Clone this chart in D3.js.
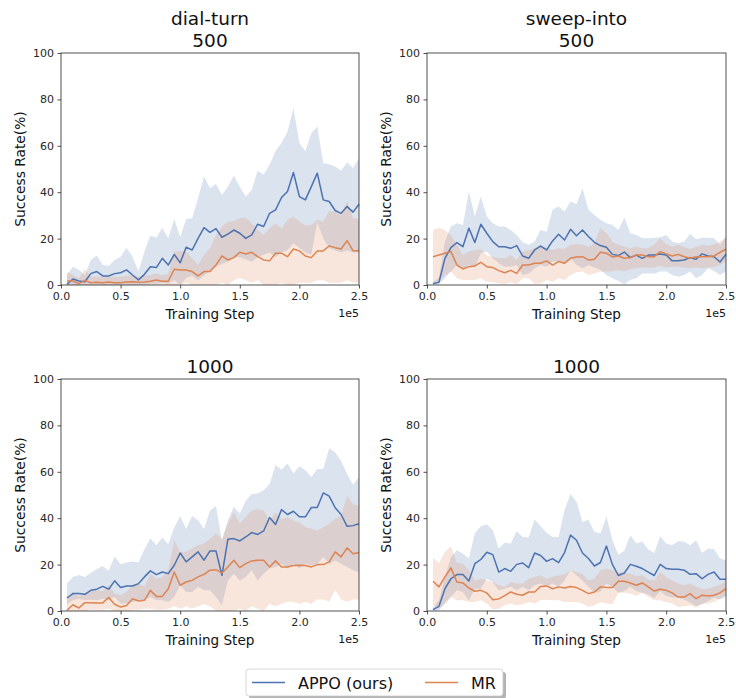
<!DOCTYPE html>
<html><head><meta charset="utf-8">
<script src="https://cdn.jsdelivr.net/npm/d3@7"></script>
<style>body{margin:0;background:#fff;}svg{display:block;font-family:"DejaVu Sans",sans-serif;}</style>
</head><body>
<script>
// ---------- DATA ----------
const steps = [5000,10000,15000,20000,25000,30000,35000,40000,45000,50000,
  55000,60000,65000,70000,75000,80000,85000,90000,95000,100000,
  105000,110000,115000,120000,125000,130000,135000,140000,145000,150000,
  155000,160000,165000,170000,175000,180000,185000,190000,195000,200000,
  205000,210000,215000,220000,225000,230000,235000,240000,245000,250000];
const seriesNames = ["APPO (ours)", "MR"];
const panelTasks = ["dial-turn", "sweep-into", "", ""];
const panelBudgets = ["500", "500", "1000", "1000"];
const yTicks = [0, 20, 40, 60, 80, 100];
const xTicks = [0, 50000, 100000, 150000, 200000, 250000];
const xTickLabels = ["0.0", "0.5", "1.0", "1.5", "2.0", "2.5"];

// dial-turn 500
const dial500AppoMean = [0.3,2.6,1.7,1.4,4.9,5.8,3.9,3.9,4.9,5.3,6.5,4.3,2.2,4.6,7.9,7.5,11.5,8.6,13.2,9.6,16.3,15.1,20.1,24.7,22.7,24.3,20.6,21.9,23.7,22.3,20.1,21.6,26.2,25.2,30.9,32.4,37.7,40.3,48.5,38.1,36.7,42.4,48.2,36.7,36.0,32.1,30.9,33.8,31.4,34.8];
const dial500AppoHi = [4.3,7.9,6.5,4.3,10.8,12.7,8.6,8.3,10.8,12.2,16.1,12.2,5.8,14.4,21.3,20.4,24.7,20.1,28.5,20.6,28.5,28.8,37.4,46.8,41.7,43.5,38.8,42.4,47.2,42.4,38.1,41.0,49.2,47.5,51.8,57.8,61.2,65.9,76.3,61.2,57.6,65.5,68.3,52.5,52.1,51.1,49.2,52.9,50.4,54.7];
const dial500AppoLo = [0,0,0,0,0,0,0,0,0,0,0,0,0,0,0.5,0.5,1,0.5,2,0,3,4,2,4,6,8,9,10,12,12,11,10,12,13,14,12,14,15,18,16,14,13,27,20,16,15,14,15,14,14];
const dial500MrMean = [1.7,1.7,0.6,2.0,1.0,1.2,1.0,1.3,1.0,1.0,1.3,1.4,1.2,1.3,1.6,2.2,1.6,1.6,6.8,6.5,6.5,5.8,3.9,5.8,5.8,8.6,12.5,10.8,11.8,14.1,13.4,14.1,12.2,10.8,10.4,13.7,13.7,12.2,15.5,14.7,12.5,11.8,14.7,14.7,16.8,16.1,15.5,19.1,14.8,14.8];
const dial500MrHi = [5.8,4.3,2.9,6.9,3.6,3.6,3.6,3.6,3.6,3.6,4.0,4.3,3.6,4.0,4.3,5.0,4.3,4.6,14.7,14.7,14.4,11.5,8.6,12.9,15.8,21.6,25.2,27.3,27.6,28.8,29.1,26.6,23.7,21.6,24.5,26.6,24.2,28.1,29.5,27.3,25.6,25.9,28.1,27.3,31.9,31.7,30.2,36.3,28.8,28.5];
const dial500MrLo = [0,0,0,0,0,0,0,0,0,0,0,0,0,0,0,0,0,0,0,0,1,0,0,0,0,0,1,0,2,3,2,1,2,0,0,0,1,0,0,1,1,1,2,2,1,1,1,2,1,1];

// sweep-into 500
const sweep500AppoMean = [0.6,1.2,11.5,16.1,18.3,16.5,24.5,18.3,26.2,22.3,18.7,16.5,16.5,15.8,17.0,12.5,11.5,15.1,16.8,15.1,19.0,21.9,19.4,24.0,21.2,23.7,20.9,18.4,17.0,16.3,13.2,12.7,14.2,11.8,12.9,11.5,12.9,12.9,13.4,12.9,10.4,10.5,10.8,11.8,11.1,13.4,12.5,12.2,9.9,13.2];
const sweep500AppoHi = [1.4,2.9,18.7,25.2,26.6,25.9,40.3,29.5,38.1,29.5,26.6,25.2,25.2,23.7,21.6,18.4,17.3,18.7,23.7,23.0,32.4,33.8,31.7,36.0,34.8,41.7,32.4,30.2,28.1,26.6,25.9,23.7,29.1,22.3,21.6,20.1,20.1,20.4,20.6,21.6,18.7,18.0,18.7,22.0,19.7,20.4,20.4,20.1,17.3,20.9];
const sweep500AppoLo = [0,0.3,2.9,5.8,8.6,6.9,8.6,7.5,13.7,14.4,11.5,9.4,7.9,7.9,8.6,4.3,5.0,7.2,8.6,7.9,10.1,10.1,8.9,11.5,8.6,7.2,8.6,7.5,6.5,4.3,2.9,1.7,0.3,2.2,2.9,5.0,5.0,5.0,5.8,5.8,4.3,3.6,4.3,5.8,2.9,4.3,7.2,6.0,4.3,5.8];
const sweep500MrMean = [12.2,12.9,13.7,14.4,8.6,6.9,7.9,8.2,9.8,7.9,7.5,6.2,5.3,6.3,5.0,8.6,8.6,9.4,9.4,10.4,8.6,10.1,9.4,11.5,12.1,12.2,10.8,11.1,14.1,13.7,12.1,12.5,11.5,11.9,12.9,12.9,12.2,12.2,14.4,13.4,12.5,13.2,12.2,11.5,12.2,12.2,12.2,12.5,14.1,15.4];
const sweep500MrHi = [23.7,24.7,23.7,21.6,17.3,12.9,14.4,15.1,15.5,12.7,12.2,11.5,11.5,12.9,10.8,14.4,15.1,15.8,17.3,15.8,15.1,15.8,15.5,17.3,17.6,17.3,16.5,18.0,24.5,22.3,18.7,17.3,16.5,15.8,16.5,15.8,15.8,17.3,20.1,17.6,16.5,17.3,16.5,15.5,16.5,17.3,16.8,17.6,18.7,20.4];
const sweep500MrLo = [0,1.4,4.3,5.8,2.9,2.2,2.2,2.2,2.9,1.4,1.2,0.7,0.3,1.2,0.3,2.9,2.9,0.7,0.7,2.2,1.4,2.9,2.2,4.3,5.5,5.8,4.3,5.0,5.8,5.8,5.8,6.5,5.8,6.9,7.2,7.5,7.5,7.5,8.3,7.5,7.9,7.9,7.5,7.2,7.5,7.2,7.5,7.9,8.6,10.1];

// dial-turn 1000
const dial1000AppoMean = [5.6,7.5,7.5,7.2,8.9,9.4,10.6,9.4,13.0,10.1,10.8,10.8,11.8,14.7,17.3,15.7,16.8,16.1,19.7,25.0,21.2,23.3,25.5,21.9,25.9,25.9,15.4,30.9,31.2,30.2,31.9,33.8,33.0,34.5,40.3,37.3,43.7,41.6,43.0,40.6,40.6,44.6,44.6,50.9,49.5,44.5,41.6,36.5,36.8,37.6];
const dial1000AppoHi = [11.8,14.7,15.5,14.7,16.5,18.0,19.4,17.3,23.5,20.1,20.9,21.3,20.9,26.6,31.4,28.3,31.7,28.8,36.0,41.0,35.3,41.0,39.1,35.3,43.2,45.3,30.2,39.1,44.9,42.0,47.5,50.4,50.6,52.1,54.7,62.9,60.9,63.6,59.4,62.3,60.7,57.8,61.2,61.2,70.1,68.3,64.7,59.0,54.4,57.8];
const dial1000AppoLo = [3.0,4.6,5.3,4.6,4.9,4.6,5.3,4.6,6.0,3.2,3.2,3.9,4.6,4.6,6.0,4.6,4.6,3.9,6.0,11.1,8.2,8.2,10.4,8.9,8.9,6.0,2.5,13.2,16.1,13.2,14.7,17.6,13.2,16.1,18.3,19.0,20.4,18.3,20.4,18.3,20.4,19.7,20.4,23.3,20.4,21.8,20.4,19.0,17.6,16.8];
const dial1000MrMean = [0.3,2.7,1.3,3.6,3.6,3.5,3.5,5.8,2.9,1.7,2.4,5.3,4.3,4.6,8.9,6.3,6.3,9.6,16.8,11.1,12.5,13.2,14.7,15.8,17.6,17.8,16.4,19.0,21.9,18.7,20.4,21.6,21.9,21.9,19.0,21.6,19.0,19.0,19.6,19.7,19.6,19.0,20.0,20.0,21.2,25.5,23.3,27.2,24.7,25.2];
const dial1000MrHi = [4.6,8.2,6.3,7.5,8.9,8.9,8.5,11.1,7.5,6.8,8.2,11.1,11.8,10.4,16.1,13.9,14.7,17.6,30.5,25.5,25.5,26.9,28.3,29.1,31.2,33.4,31.2,37.6,42.6,37.6,40.5,43.3,44.0,43.3,39.0,42.6,39.7,40.4,39.0,38.3,36.1,35.4,34.7,36.1,37.6,39.7,41.1,49.6,46.0,45.3];
const dial1000MrLo = [0,0,0,0,0.5,0.5,0.5,1,0,0,0,0.5,0.5,1,1,0.5,0.5,1,2,1,2,1,2,3,2,0,0,0,0,1,0,2,1,0,3,2,3,4,4,3,4,3,5,5,4,9,5,4,5,5];

// sweep-into 1000
const sweep1000AppoMean = [0.6,2.0,9.6,13.9,15.7,15.7,12.9,20.4,22.2,25.3,24.3,16.8,18.3,17.1,20.1,20.7,18.7,25.0,23.9,21.4,22.6,20.9,25.2,32.7,30.5,25.0,22.6,19.4,20.9,28.0,20.1,15.3,16.4,20.1,19.3,18.3,16.8,15.3,20.1,18.3,18.0,18.0,17.6,15.8,16.1,13.9,15.8,16.8,13.7,13.7];
const sweep1000AppoHi = [1.4,4.6,14.7,23.3,26.2,24.7,22.6,33.4,36.5,37.4,34.8,26.9,29.4,29.1,34.5,31.9,31.7,39.4,36.5,33.7,31.9,31.9,43.5,50.4,47.1,38.4,39.4,34.1,33.4,40.7,30.6,24.2,26.0,32.7,29.1,29.8,26.5,25.0,32.2,29.1,28.3,30.2,29.8,28.3,30.5,25.0,26.9,26.6,22.6,21.9];
const sweep1000AppoLo = [0,0.3,3.2,6.0,8.9,8.2,4.6,9.6,9.6,13.9,12.5,8.9,9.6,10.4,8.9,10.4,8.9,11.1,11.8,10.6,11.8,10.4,13.2,17.6,15.4,13.2,10.4,7.9,8.3,11.8,10.4,7.9,8.6,10.4,8.6,7.9,7.2,5.5,8.6,6.5,5.8,5.8,5.0,3.6,2.2,2.9,4.3,5.8,5.0,6.5];
const sweep1000MrMean = [12.8,10.4,14.7,18.6,12.5,12.1,9.9,8.5,8.9,7.8,4.9,5.2,6.6,8.2,7.2,6.8,8.2,8.2,10.6,10.8,9.6,10.4,9.9,10.6,10.1,8.9,7.5,8.2,10.4,10.1,10.1,12.8,12.8,12.1,11.1,12.1,10.4,8.6,9.4,8.9,7.8,6.0,6.0,7.5,5.3,6.8,6.5,6.8,7.8,9.6];
const sweep1000MrHi = [22.9,20.7,25.5,27.9,20.7,20.4,17.6,13.2,13.9,13.2,12.5,11.1,10.4,12.5,11.8,11.8,13.9,14.7,15.4,13.9,14.7,15.4,15.8,17.6,16.8,15.8,13.2,13.9,17.6,18.3,17.6,16.8,16.4,16.1,15.1,15.4,13.5,13.2,16.8,14.7,13.2,11.8,11.1,11.8,10.4,9.4,9.6,10.4,11.1,13.2];
const sweep1000MrLo = [2.5,1.0,3.2,6.0,4.6,4.6,3.9,3.9,4.6,3.2,0.6,1.0,2.5,3.2,2.5,2.9,3.9,3.2,4.6,4.9,4.6,4.6,3.9,3.9,3.9,3.2,1.7,2.5,3.9,3.2,2.9,7.9,7.9,7.5,6.5,7.9,6.0,4.6,4.6,3.9,3.2,1.7,2.0,2.5,1.4,3.2,3.2,3.9,5.3,6.5];

// ---------- DRAW ----------
const colors = ["#4C72B0", "#DD8452"];
const W = 736, H = 698;
const svg = d3.select("body").append("svg").attr("width", W).attr("height", H);

const panelData = [
  [[dial500AppoMean, dial500AppoLo, dial500AppoHi], [dial500MrMean, dial500MrLo, dial500MrHi]],
  [[sweep500AppoMean, sweep500AppoLo, sweep500AppoHi], [sweep500MrMean, sweep500MrLo, sweep500MrHi]],
  [[dial1000AppoMean, dial1000AppoLo, dial1000AppoHi], [dial1000MrMean, dial1000MrLo, dial1000MrHi]],
  [[sweep1000AppoMean, sweep1000AppoLo, sweep1000AppoHi], [sweep1000MrMean, sweep1000MrLo, sweep1000MrHi]]
];
const boxes = [
  {x0: 61, x1: 359, y0: 53, y1: 285},
  {x0: 427, x1: 726, y0: 53, y1: 285},
  {x0: 61, x1: 359, y0: 379, y1: 611},
  {x0: 427, x1: 726, y0: 379, y1: 611}
];

boxes.forEach((b, pi) => {
  const x = d3.scaleLinear().domain([0, 250000]).range([b.x0, b.x1]);
  const y = d3.scaleLinear().domain([0, 100]).range([b.y1, b.y0]);
  const g = svg.append("g");

  const area = (lo, hi) => d3.area().x((d, i) => x(steps[i])).y0((d, i) => y(lo[i])).y1((d, i) => y(hi[i]))(steps);
  const line = (m) => d3.line().x((d, i) => x(steps[i])).y((d, i) => y(m[i]))(steps);

  panelData[pi].forEach((s, si) => {
    g.append("path").attr("d", area(s[1], s[2])).attr("fill", colors[si]).attr("fill-opacity", 0.2).attr("stroke", "none");
  });
  panelData[pi].forEach((s, si) => {
    g.append("path").attr("d", line(s[0])).attr("fill", "none").attr("stroke", colors[si]).attr("stroke-width", 1.5).attr("stroke-linejoin", "round");
  });

  // axes
  const xa = g.append("g").attr("transform", `translate(0,${b.y1})`)
    .call(d3.axisBottom(x).tickValues(xTicks).tickFormat((d, i) => xTickLabels[i]).tickSize(3.5).tickPadding(3.5));
  const ya = g.append("g").attr("transform", `translate(${b.x0},0)`)
    .call(d3.axisLeft(y).tickValues(yTicks).tickSize(3.5).tickPadding(3.5));
  [xa, ya].forEach(a => {
    a.select(".domain").remove();
    a.selectAll("line").attr("stroke", "#262626").attr("stroke-width", 0.8);
    a.selectAll("text").attr("fill", "#262626").style("font-size", "11px").style("font-family", "DejaVu Sans");
  });
  g.append("rect").attr("x", b.x0).attr("y", b.y0).attr("width", b.x1 - b.x0).attr("height", b.y1 - b.y0)
    .attr("fill", "none").attr("stroke", "#262626").attr("stroke-width", 0.8);

  // titles
  const cx = (b.x0 + b.x1) / 2;
  if (panelTasks[pi]) {
    g.append("text").attr("x", cx).attr("y", b.y0 - 28.5).attr("text-anchor", "middle").style("font-size", "18.5px").attr("fill", "#111").text(panelTasks[pi]);
  }
  g.append("text").attr("x", cx).attr("y", b.y0 - 6).attr("text-anchor", "middle").style("font-size", "18.5px").attr("fill", "#111").text(panelBudgets[pi]);

  // axis labels
  g.append("text").attr("x", cx).attr("y", b.y1 + 34).attr("text-anchor", "middle").style("font-size", "13.6px").attr("fill", "#111").text("Training Step");
  g.append("text").attr("x", b.x1).attr("y", b.y1 + 32).attr("text-anchor", "end").style("font-size", "11px").attr("fill", "#111").text("1e5");
  g.append("text").attr("transform", `translate(${b.x0 - 36},${(b.y0 + b.y1) / 2}) rotate(-90)`)
    .attr("text-anchor", "middle").style("font-size", "13.8px").attr("fill", "#111").text("Success Rate(%)");
});

// legend
const lg = svg.append("g");
lg.append("rect").attr("x", 249).attr("y", 672).attr("width", 257).attr("height", 27).attr("rx", 3).attr("fill", "#b3b3b3");
lg.append("rect").attr("x", 246).attr("y", 669).attr("width", 257).attr("height", 27).attr("rx", 3).attr("fill", "#fff").attr("stroke", "#cccccc").attr("stroke-width", 0.8);
const legX = [252, 425];
seriesNames.forEach((n, i) => {
  lg.append("line").attr("x1", legX[i]).attr("x2", legX[i] + 33).attr("y1", 682.5).attr("y2", 682.5).attr("stroke", colors[i]).attr("stroke-width", 1.5);
  lg.append("text").attr("x", legX[i] + 46).attr("y", 688.5).style("font-size", "16px").attr("fill", "#111").text(n);
});
</script>
</body></html>
